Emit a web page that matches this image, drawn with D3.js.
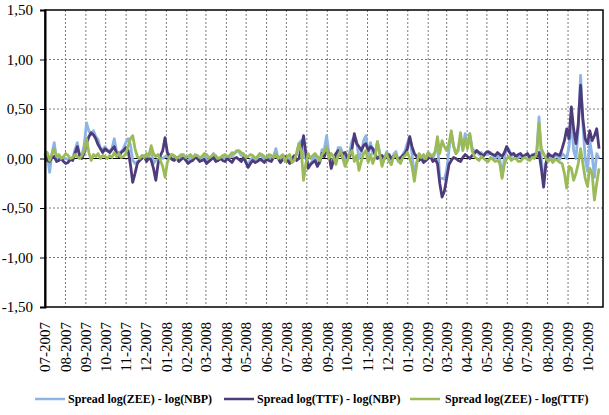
<!DOCTYPE html>
<html>
<head>
<meta charset="utf-8">
<script src="https://cdn.jsdelivr.net/npm/d3@7"></script>
<style>
  body { margin: 0; background: #fff; }
  text { font-family: "Liberation Serif", Tinos, "DejaVu Serif", "Times New Roman", serif; }
</style>
</head>
<body>
<div id="chart"></div>
<script>
// month tick labels (x axis)
var monthLabels = ["07-2007","08-2007","09-2007","10-2007","11-2007","12-2007",
  "01-2008","02-2008","03-2008","04-2008","05-2008","06-2008","07-2008","08-2008",
  "09-2008","10-2008","11-2008","12-2008","01-2009","02-2009","03-2009","04-2009",
  "05-2009","06-2009","07-2009","08-2009","09-2009","10-2009"];

var yTicks = [-1.5, -1, -0.5, 0, 0.5, 1, 1.5];

// observations every 3.5 days, first one on 2007-07-01
var startDate = "2007-07-01";
var endDate = "2009-10-24";
var stepHours = 84;

var seriesNames = ["Spread log(ZEE) - log(NBP)", "Spread log(TTF) - log(NBP)", "Spread log(ZEE) - log(TTF)"];

var spreadZeeNbp = [0.08,0.04,-0.14,0.05,0.16,-0.01,0.03,0.00,0.00,0.00,-0.01,-0.01,0.00,0.09,0.16,0.03,0.03,0.14,0.36,0.28,
  0.24,0.28,0.22,0.19,0.10,0.09,0.12,0.08,0.08,0.10,0.20,0.07,0.06,0.07,0.10,0.16,0.20,0.14,-0.02,-0.05,
  -0.03,-0.02,0.03,0.03,0.02,0.03,0.10,-0.05,-0.02,-0.01,0.01,0.00,0.02,0.02,0.04,0.03,0.01,0.01,-0.01,0.03,
  0.04,-0.01,-0.03,0.01,-0.01,0.04,0.03,-0.02,0.00,0.04,-0.01,-0.02,0.01,0.05,0.00,-0.02,0.01,0.01,0.01,0.02,
  0.01,0.02,0.05,0.08,0.07,0.03,0.05,-0.03,-0.07,-0.01,0.01,-0.04,-0.01,0.04,0.02,-0.02,0.00,0.02,0.00,0.02,
  0.10,0.00,-0.02,0.03,-0.01,0.00,-0.01,-0.04,0.01,0.04,0.15,0.18,0.01,0.00,-0.05,-0.06,-0.01,0.03,-0.06,-0.05,
  0.09,0.09,0.23,0.04,-0.05,0.00,-0.01,0.11,0.11,0.05,-0.02,-0.02,0.07,0.18,0.22,0.18,0.00,0.05,0.18,0.23,
  0.04,0.16,0.05,0.06,0.17,0.06,-0.05,0.00,0.07,0.01,-0.06,0.04,0.07,-0.03,-0.04,0.04,0.08,0.16,0.22,0.04,
  -0.18,-0.04,0.03,0.01,0.00,-0.02,0.06,0.04,0.00,0.06,0.17,-0.20,-0.20,-0.21,-0.12,0.09,0.26,0.13,0.05,0.08,
  0.23,0.09,0.25,0.12,0.25,0.11,0.07,0.08,0.04,0.06,0.03,0.04,0.04,0.06,0.03,0.00,0.04,-0.01,-0.18,0.00,
  0.12,0.09,0.02,0.05,0.02,0.01,0.02,0.02,0.04,0.04,-0.01,0.04,0.04,0.07,0.42,0.00,-0.24,-0.05,0.02,0.03,
  -0.02,0.04,0.02,-0.01,0.05,0.03,0.00,0.12,0.42,0.08,0.00,0.30,0.84,0.35,0.00,-0.13,0.18,0.03,-0.19,0.05,
  0.00];

var spreadTtfNbp = [0.05,-0.02,-0.03,0.01,0.02,-0.03,-0.02,0.00,-0.03,-0.05,-0.04,-0.01,-0.02,0.05,0.12,0.03,0.00,0.06,0.15,0.22,
  0.26,0.24,0.20,0.14,0.10,0.06,0.10,0.08,0.06,0.09,0.12,0.05,0.02,0.06,0.08,0.11,0.08,-0.06,-0.24,-0.15,
  -0.05,-0.02,0.00,0.02,-0.03,0.01,-0.02,-0.10,-0.22,-0.05,0.03,0.08,0.21,0.06,0.02,-0.01,-0.02,0.01,-0.03,-0.01,
  0.01,-0.02,-0.05,-0.03,-0.02,0.01,0.00,-0.03,-0.02,-0.01,-0.05,-0.03,-0.01,0.01,-0.03,-0.02,0.00,-0.02,-0.03,0.00,
  -0.02,-0.04,0.00,0.01,-0.01,-0.03,0.01,-0.04,-0.09,-0.05,-0.02,-0.04,-0.03,-0.01,-0.02,-0.04,-0.01,-0.02,-0.03,0.01,
  0.04,0.00,-0.04,-0.01,0.02,-0.02,-0.05,0.00,0.03,-0.02,0.00,0.10,0.23,0.05,-0.10,-0.06,-0.04,-0.02,-0.08,-0.03,
  0.05,0.02,0.10,0.04,-0.10,-0.02,0.05,0.08,0.03,0.05,0.06,0.00,0.02,0.10,0.25,0.15,0.12,0.08,0.13,0.15,
  0.08,0.12,0.10,0.04,0.00,0.02,0.03,0.00,0.02,0.04,0.00,0.02,0.03,-0.01,0.01,0.03,0.05,0.10,0.22,0.12,
  0.05,0.02,-0.02,0.00,-0.04,-0.02,0.00,0.02,-0.03,-0.01,-0.05,-0.25,-0.39,-0.33,-0.20,-0.06,-0.02,0.01,0.00,-0.02,
  -0.03,0.01,0.04,0.02,0.00,0.03,0.05,0.08,0.06,0.04,0.03,0.06,0.07,0.05,0.04,0.03,0.06,0.04,0.02,0.06,
  0.12,0.07,0.04,0.05,0.02,0.04,0.05,0.02,0.03,0.05,0.01,0.03,0.04,0.02,0.06,-0.10,-0.29,-0.05,0.05,0.03,
  0.02,0.05,0.04,0.03,0.10,0.18,0.30,0.20,0.52,0.30,0.15,0.35,0.74,0.40,0.20,0.15,0.28,0.18,0.23,0.30,
  0.10];

var spreadZeeTtf = [0.03,0.06,-0.02,0.04,0.10,0.02,0.04,0.00,0.02,0.05,0.03,0.00,0.01,0.04,0.02,0.00,0.03,0.08,0.20,0.06,
  -0.02,0.04,0.02,0.05,0.00,0.03,0.02,0.00,0.03,0.01,0.06,0.02,0.05,0.01,0.02,0.05,0.12,0.20,0.23,0.10,
  0.02,0.00,0.03,0.01,0.05,0.02,0.13,0.05,0.02,0.04,-0.02,-0.08,-0.19,-0.04,0.02,0.04,0.03,0.00,0.02,0.04,
  0.03,0.01,0.02,0.04,0.01,0.03,0.03,0.01,0.02,0.05,0.04,0.01,0.02,0.04,0.03,0.00,0.01,0.03,0.04,0.02,
  0.03,0.06,0.05,0.07,0.08,0.06,0.04,0.01,0.02,0.04,0.03,0.00,0.02,0.05,0.04,0.02,0.01,0.04,0.03,0.01,
  0.05,0.00,0.02,0.04,-0.03,0.02,0.04,-0.04,-0.02,0.06,0.15,0.08,-0.22,-0.05,0.05,0.00,0.03,0.05,0.02,-0.02,
  0.04,0.07,0.12,0.00,0.05,0.02,-0.06,0.03,0.08,0.00,-0.08,-0.02,0.05,0.08,-0.03,0.03,-0.12,-0.03,0.05,0.08,
  -0.04,0.04,-0.05,0.02,0.17,0.04,-0.08,0.00,0.05,-0.03,-0.06,0.02,0.04,-0.02,-0.05,0.01,0.03,0.06,0.00,-0.08,
  -0.23,-0.06,0.05,0.01,0.04,0.00,0.06,0.02,0.03,0.07,0.22,0.05,0.18,0.12,0.08,0.15,0.28,0.12,0.05,0.10,
  0.26,0.08,0.20,0.10,0.25,0.08,0.02,0.00,-0.02,0.02,0.00,-0.02,-0.03,0.01,-0.01,-0.03,-0.02,-0.05,-0.20,-0.06,
  0.00,0.02,-0.02,0.00,0.00,-0.03,-0.03,0.00,0.01,-0.01,-0.02,0.01,0.00,0.05,0.36,0.10,0.05,0.00,-0.03,0.00,
  -0.04,-0.01,-0.02,-0.04,-0.05,-0.15,-0.30,-0.08,-0.10,-0.22,-0.15,-0.05,0.10,-0.05,-0.20,-0.28,-0.10,-0.15,-0.42,-0.25,
  -0.10];

var colors = ["#8DB4E2", "#4E3B7C", "#9BBB59"];

var width = 609, height = 415;
var plotLeft = 45, plotRight = 603, plotTop = 10, plotBottom = 307;

var parseMonth = d3.timeParse("%m-%Y");
var parseDay = d3.timeParse("%Y-%m-%d");
var start = parseDay(startDate);

var x = d3.scaleTime()
  .domain([start, parseDay(endDate)])
  .range([plotLeft, plotRight]);

var y = d3.scaleLinear().domain([-1.5, 1.5]).range([plotBottom, plotTop]);

var fmt = d3.formatLocale({decimal: ",", thousands: ".", grouping: [3], currency: ["", ""], minus: "-"}).format(".2f");

var svg = d3.select("#chart").append("svg")
  .attr("width", width).attr("height", height);

// horizontal grid
svg.append("g").selectAll("line")
  .data(yTicks.filter(function(d) { return d !== 0 && d !== 1.5 && d !== -1.5; }))
  .enter().append("line")
    .attr("x1", plotLeft).attr("x2", plotRight)
    .attr("y1", function(d) { return y(d); })
    .attr("y2", function(d) { return y(d); })
    .attr("stroke", "#7a7a7a")
    .attr("stroke-width", 1)
    .attr("stroke-dasharray", "2,2");

// vertical grid
svg.append("g").selectAll("line")
  .data(monthLabels.slice(1))
  .enter().append("line")
    .attr("x1", function(d) { return x(parseMonth(d)); })
    .attr("x2", function(d) { return x(parseMonth(d)); })
    .attr("y1", plotTop).attr("y2", plotBottom)
    .attr("stroke", "#7a7a7a")
    .attr("stroke-width", 1)
    .attr("stroke-dasharray", "2,2");

// zero line
svg.append("line")
  .attr("x1", plotLeft).attr("x2", plotRight)
  .attr("y1", y(0)).attr("y2", y(0))
  .attr("stroke", "#000").attr("stroke-width", 1.2);

// series
var lineGen = function(values) {
  return d3.line()
    .x(function(d, i) { return x(d3.timeHour.offset(start, i * stepHours)); })
    .y(function(d) { return y(d); })(values);
};

[spreadZeeNbp, spreadTtfNbp, spreadZeeTtf].forEach(function(s, k) {
  svg.append("path")
    .attr("d", lineGen(s))
    .attr("fill", "none")
    .attr("stroke", colors[k])
    .attr("stroke-width", 2.8)
    .attr("stroke-linejoin", "round");
});

// plot frame
svg.append("rect")
  .attr("x", plotLeft).attr("y", plotTop)
  .attr("width", plotRight - plotLeft).attr("height", plotBottom - plotTop)
  .attr("fill", "none").attr("stroke", "#000").attr("stroke-width", 1.5);

// y axis
var yAxis = svg.append("g")
  .attr("transform", "translate(" + plotLeft + ",0)")
  .call(d3.axisLeft(y).tickValues(yTicks).tickFormat(fmt).tickSize(5).tickPadding(7));
yAxis.attr("font-family", null);
yAxis.select(".domain").attr("stroke", "#000").attr("stroke-width", 2);
yAxis.selectAll("text")
  .attr("font-size", 15).attr("fill", "#000");

// x labels
svg.append("g").selectAll("text")
  .data(monthLabels)
  .enter().append("text")
    .attr("transform", function(d) { return "translate(" + x(parseMonth(d)) + ",322) rotate(-90)"; })
    .attr("text-anchor", "end")
    .attr("dy", "0.35em")
    .attr("font-size", 15)
    .text(function(d) { return d; });

// legend
var legendX = [[35, 65, 68], [224, 254, 257], [410, 440, 445]];
var legend = svg.append("g").selectAll("g")
  .data(seriesNames)
  .enter().append("g");
legend.append("line")
  .attr("x1", function(d, i) { return legendX[i][0]; })
  .attr("x2", function(d, i) { return legendX[i][1]; })
  .attr("y1", 399).attr("y2", 399)
  .attr("stroke", function(d, i) { return colors[i]; })
  .attr("stroke-width", 2.5);
legend.append("text")
  .attr("x", function(d, i) { return legendX[i][2]; })
  .attr("y", 399)
  .attr("dy", "0.35em")
  .attr("font-size", 12)
  .attr("font-weight", "bold")
  .text(function(d) { return d; });
</script>
</body>
</html>
